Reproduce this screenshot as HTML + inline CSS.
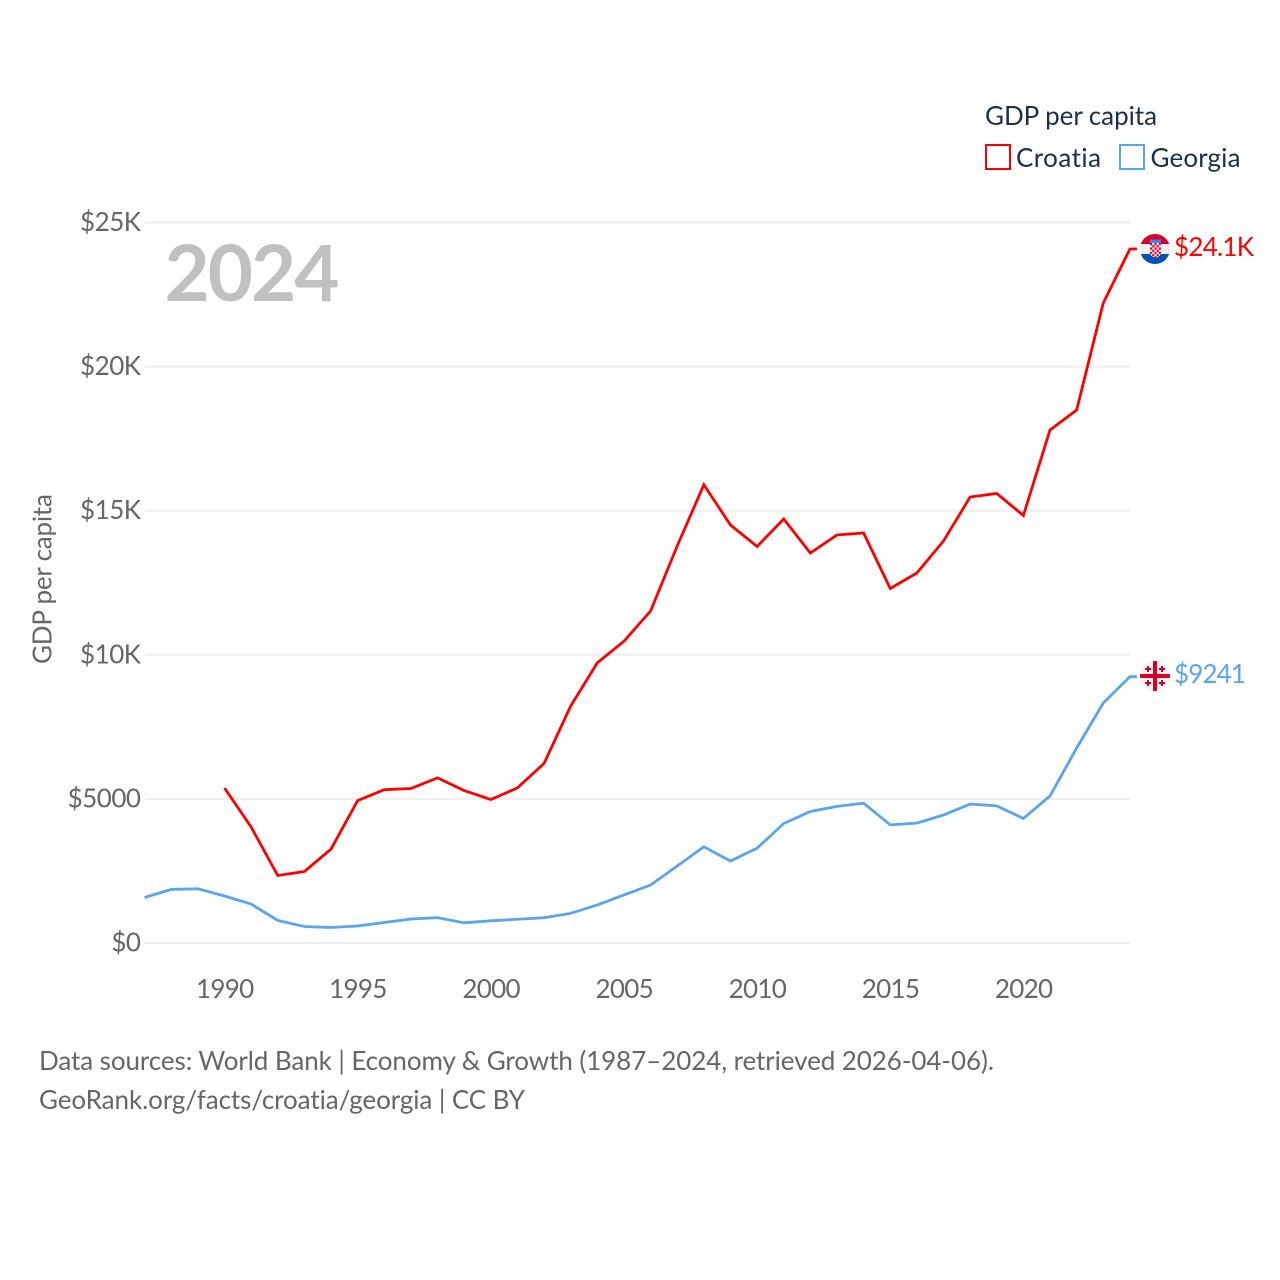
<!DOCTYPE html>
<html lang="en">
<head>
<meta charset="utf-8">
<title>GDP per capita: Croatia and Georgia</title>
<style>
html,body{margin:0;padding:0;background:#fff;}
svg{display:block;}
text{font-family:"Lato","Carlito","Liberation Sans",sans-serif;font-variant-ligatures:none;}
</style>
</head>
<body>
<svg id="chart" width="1280" height="1280" viewBox="0 0 1280 1280" xmlns="http://www.w3.org/2000/svg">
  <defs>
    <pattern id="hr-check" x="1150" y="243" width="4.4" height="4.4" patternUnits="userSpaceOnUse">
      <rect width="4.4" height="4.4" fill="#fff"/>
      <rect width="2.2" height="2.2" fill="#d80027"/>
      <rect x="2.2" y="2.2" width="2.2" height="2.2" fill="#d80027"/>
    </pattern>
  </defs>
  <g id="grid"></g>
  <g id="yticks"></g>
  <g id="xticks"></g>
  <text transform="translate(51.500,579) rotate(-90)" text-anchor="middle" font-size="26" textLength="170" fill="#666">GDP per capita</text>
  <text x="164.500" y="301" font-size="78" font-weight="700" letter-spacing="-2" fill="#c0c0c0">2024</text>
  <g id="series"></g>
  <g id="flag-hr">
    <clipPath id="clip-hr"><circle cx="1155" cy="249" r="15"/></clipPath>
    <g clip-path="url(#clip-hr)">
      <rect x="1140" y="234" width="30" height="10" fill="#d80027"/>
      <rect x="1140" y="244" width="30" height="10" fill="#f0f0f0"/>
      <rect x="1140" y="254" width="30" height="11" fill="#0052b4"/>
      <rect x="1150" y="239.500" width="11" height="3.500" fill="#338af3"/>
      <path d="M1150 243h11v10q0 3-5.500 5q-5.500-2-5.500-5z" fill="url(#hr-check)"/>
    </g>
  </g>
  <g id="flag-ge">
    <clipPath id="clip-ge"><circle cx="1155" cy="676" r="15"/></clipPath>
    <g clip-path="url(#clip-ge)">
      <rect x="1140" y="661" width="30" height="30" fill="#f0f0f0"/>
      <rect x="1153" y="661" width="4" height="30" fill="#d80027"/>
      <rect x="1140" y="674" width="30" height="4" fill="#d80027"/>
      <path d="M1147 666h2v2h2v2h-2v2h-2v-2h-2v-2h2zM1161 666h2v2h2v2h-2v2h-2v-2h-2v-2h2zM1147 680h2v2h2v2h-2v2h-2v-2h-2v-2h2zM1161 680h2v2h2v2h-2v2h-2v-2h-2v-2h2z" fill="#d80027"/>
    </g>
  </g>
  <text id="label-hr" x="1174" y="256" font-size="26" textLength="80" fill="#ff0000">$24.1K</text>
  <text id="label-ge" x="1174" y="683" font-size="26" textLength="72" fill="#5ba4ee">$9241</text>
  <g>
    <text x="985" y="125" font-size="26" textLength="172" fill="#1a2f4d">GDP per capita</text>
    <rect x="986" y="145" width="24" height="24" fill="#fff" stroke="#ff0000" stroke-width="2"/>
    <text x="1016" y="167" font-size="26" textLength="85" fill="#1a2f4d">Croatia</text>
    <rect x="1120" y="145" width="24" height="24" fill="#fff" stroke="#5ba4ee" stroke-width="2"/>
    <text x="1150.500" y="167" font-size="26" textLength="90" fill="#1a2f4d">Georgia</text>
  </g>
  <text x="39" y="1070" font-size="26" textLength="955" fill="#666">Data sources: World Bank | Economy &amp; Growth (1987–2024, retrieved 2026-04-06).</text>
  <text x="39" y="1109" font-size="26" textLength="486" fill="#666">GeoRank.org/facts/croatia/georgia | CC BY</text>
</svg>
<script>
const years = [1987,1988,1989,1990,1991,1992,1993,1994,1995,1996,1997,1998,1999,2000,2001,2002,2003,2004,2005,2006,2007,2008,2009,2010,2011,2012,2013,2014,2015,2016,2017,2018,2019,2020,2021,2022,2023,2024];
const croatia = [null,null,null,5378,4025,2342,2481,3260,4940,5320,5360,5730,5290,4979,5380,6230,8224,9720,10470,11520,13775,15900,14504,13758,14712,13532,14157,14226,12300,12838,13949,15475,15597,14834,17800,18494,22207,24081];
const georgia = [1579,1860,1880,1631,1353,781,572,538,590,710,830,880,700,770,825,875,1030,1320,1666,2012,2672,3340,2845,3290,4146,4563,4740,4850,4100,4160,4441,4820,4760,4320,5101,6766,8328,9241];
const yTickValues = [0,5000,10000,15000,20000,25000];
const yTickLabels = ["$0","$5000","$10K","$15K","$20K","$25K"];
const xTickValues = [1990,1995,2000,2005,2010,2015,2020];

const NS = "http://www.w3.org/2000/svg";
function xScale(year){ return 144.6 + (year - 1987) * 26.63; }
function yScale(v){ return 943 - v * 0.02882; }

function make(tag, attrs, parent, txt){
  const el = document.createElementNS(NS, tag);
  for (const k in attrs) el.setAttribute(k, attrs[k]);
  if (txt !== undefined) el.textContent = txt;
  parent.appendChild(el);
  return el;
}

const grid = document.getElementById('grid');
const yticks = document.getElementById('yticks');
const xticks = document.getElementById('xticks');
const seriesG = document.getElementById('series');

yTickValues.forEach(function(v, i){
  const line = make('line', {x1: xScale(1987), x2: xScale(2024), y1: yScale(v), y2: yScale(v), stroke: '#eeeeee', 'stroke-width': 2}, grid);
  
  
  const t = make('text', {x: 140.5, y: yScale(v) + 8.5, 'text-anchor': 'end', 'font-size': 26, 'letter-spacing': -0.5, fill: '#666'}, yticks, yTickLabels[i]);
  
  
});

xTickValues.forEach(function(y){
  const t = make('text', {x: xScale(y) + 0.3, y: 998, 'text-anchor': 'middle', 'font-size': 26, 'letter-spacing': -0.7, fill: '#666'}, xticks, String(y));
  
  
});

function linePath(values){
  let d = '', last = null;
  values.forEach(function(v, i){
    if (v === null) return;
    const x = xScale(years[i]).toFixed(2), y = yScale(v).toFixed(2);
    d += (last === null ? 'M' : 'L') + x + ' ' + y;
    last = y;
  });
  d += 'L' + (xScale(years[years.length - 1]) + 7).toFixed(2) + ' ' + last;
  return d;
}

const croatiaLine = make('path', {d: linePath(croatia), fill: 'none', stroke: '#ff0000', 'stroke-width': 2.8, 'stroke-linejoin': 'miter'}, seriesG);



const georgiaLine = make('path', {d: linePath(georgia), fill: 'none', stroke: '#5ba4ee', 'stroke-width': 2.8, 'stroke-linejoin': 'miter'}, seriesG);


</script>
</body>
</html>
